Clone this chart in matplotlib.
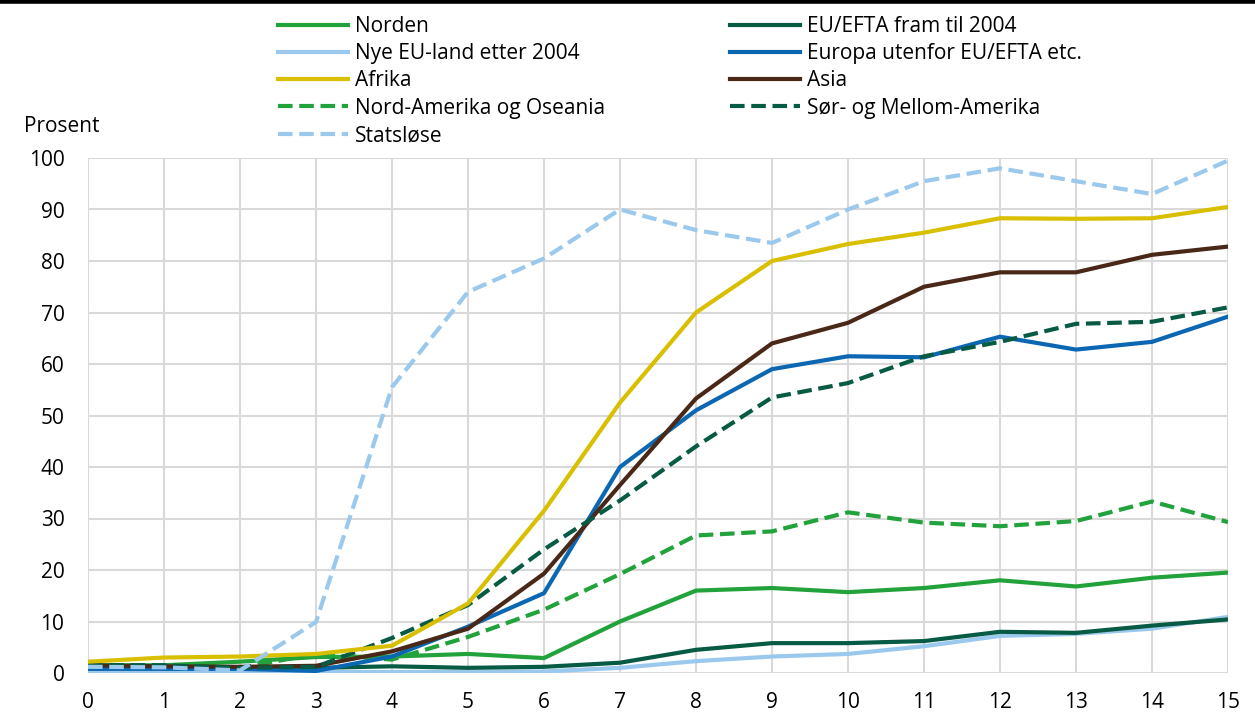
import matplotlib
matplotlib.use("Agg")
import matplotlib.pyplot as plt
from matplotlib.lines import Line2D
import numpy as np

plt.rcParams['font.family'] = ['Open Sans', 'DejaVu Sans']
plt.rcParams['font.size'] = 15
plt.rcParams['xtick.major.pad'] = 14
plt.rcParams['ytick.major.pad'] = 17
plt.rcParams['xtick.major.size'] = 0
plt.rcParams['ytick.major.size'] = 0

years = np.arange(16)

norden = [1.5, 1.5, 2.2, 3.1, 3.2, 3.7, 2.9, 10, 16, 16.5, 15.7, 16.5, 18, 16.8, 18.5, 19.5]
eu_efta = [1, 1, 1, 1, 1.3, 1, 1.2, 2, 4.5, 5.8, 5.8, 6.2, 8, 7.8, 9.2, 10.4]
nye_eu = [0, 0, 0.1, 0.2, 0.2, 0.2, 0.3, 1, 2.3, 3.2, 3.7, 5.2, 7.2, 7.6, 8.6, 10.9]
europa = [0.8, 0.8, 0.8, 0.4, 3.2, 9, 15.5, 40, 51, 59, 61.5, 61.3, 65.3, 62.8, 64.3, 69.2]
afrika = [2.2, 3, 3.2, 3.7, 5.3, 13.5, 31.5, 52.5, 70, 80, 83.3, 85.5, 88.3, 88.2, 88.3, 90.5]
asia = [1.5, 1.3, 1.2, 1.4, 4.2, 8.6, 19.3, 36.5, 53.3, 64, 68, 75, 77.8, 77.8, 81.2, 82.8]
nord_am = [1.5, 1.5, 1, 3.7, 2.6, 7, 12.3, 19.2, 26.7, 27.5, 31.2, 29.2, 28.5, 29.5, 33.3, 29.3]
sor_am = [1.5, 1.5, 1, 1.2, 6.8, 13.2, 24, 33.5, 44, 53.5, 56.3, 61.5, 64.3, 67.8, 68.2, 71]
statslose = [1.2, 1.1, 0.5, 9.9, 55.5, 74, 80.5, 90, 86, 83.5, 90, 95.5, 98, 95.5, 93, 99.5]

green = '#22a23b'
darkgreen = '#075a43'
lightblue = '#9bc9ee'
blue = '#0b67b2'
yellow = '#d8c000'
brown = '#4a2818'

fig = plt.figure(figsize=(12.55, 7.28), dpi=100)
ax = fig.add_axes([88 / 1255, 1 - 673 / 728, 1140 / 1255, 515 / 728])

lw = 3
dash = (3.5, 1.6)
l_nyeeu, = ax.plot(years, nye_eu, color=lightblue, lw=lw)
l_eu, = ax.plot(years, eu_efta, color=darkgreen, lw=lw)
l_norden, = ax.plot(years, norden, color=green, lw=lw)
l_nordam, = ax.plot(years, nord_am, color=green, lw=lw, dashes=dash)
l_europa, = ax.plot(years, europa, color=blue, lw=lw)
l_asia, = ax.plot(years, asia, color=brown, lw=lw)
l_soram, = ax.plot(years, sor_am, color=darkgreen, lw=lw, dashes=dash)
l_afrika, = ax.plot(years, afrika, color=yellow, lw=lw)
l_stat, = ax.plot(years, statslose, color=lightblue, lw=lw, dashes=dash)

ax.set_xlim(0, 15)
ax.set_ylim(0, 100)
ax.set_xticks(years)
ax.set_yticks(np.arange(0, 101, 10))
ax.grid(True, color='#d9d9d9', lw=1.5)
ax.set_axisbelow(True)
for s in ax.spines.values():
    s.set_visible(False)

fig.text(24 / 1255, 1 - 126 / 728, 'Prosent', fontsize=15, va='center', ha='left')

# svart strek øverst
fig.add_artist(Line2D([0, 1], [0.998, 0.998], color='black', lw=4, transform=fig.transFigure))

handles = [l_norden, l_nyeeu, l_afrika, l_nordam, l_stat, l_eu, l_europa, l_asia, l_soram]
labels = ['Norden', 'Nye EU-land etter 2004', 'Afrika', 'Nord-Amerika og Oseania', 'Statsløse',
          'EU/EFTA fram til 2004', 'Europa utenfor EU/EFTA etc.', 'Asia', 'Sør- og Mellom-Amerika']
fig.legend(handles, labels, ncol=2, loc='upper left', bbox_to_anchor=(278 / 1255, 1 - 16 / 728),
           frameon=False, handlelength=3.37, handletextpad=0.33, labelspacing=0.3,
           columnspacing=6.0, fontsize=15, borderaxespad=0, borderpad=0)

fig.savefig('out.png', dpi=100)
